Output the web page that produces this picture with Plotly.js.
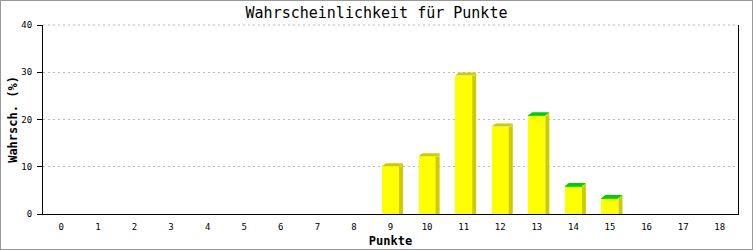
<!DOCTYPE html>
<html><head><meta charset="utf-8">
<script src="https://cdn.plot.ly/plotly-3.0.1.min.js"></script>
<style>html,body{margin:0;padding:0;background:#fff}#chart{width:751px;height:248px;border:1px solid #999;}</style>
</head><body><div id="chart"></div>
<script>
const categories = ['0','1','2','3','4','5','6','7','8','9','10','11','12','13','14','15','16','17','18'];
const yellowValues = [0,0,0,0,0,0,0,0,0,10.1,12.2,29.3,18.5,20.8,5.8,3.1,0,0,0];
const greenValues  = [0,0,0,0,0,0,0,0,0,0,0,0,0,0.1,0.1,0.3,0,0,0];
const yTickVals = [0,10,20,30,40];

const BAR_W = 0.465, DX = 0.11, DY = 3;
const YELLOW = '#ffff00', SIDE = '#cccc00', GREEN_FRONT = '#00ee00', GREEN_TOP = '#00cc00';
const GRID = '#bbbbbb', GRID_DASH = '2px,3px';
const idx = categories.map((c,i)=>i);
const yMax = Math.max(...yTickVals);

const shapes = [];
// top gridline at the range maximum (yMax = top of the plot area); Plotly skips edge gridlines
shapes.push({type:'line', xref:'paper', yref:'paper', x0:0, x1:1, y0:1, y1:1,
  line:{color:GRID, width:1, dash:GRID_DASH}, layer:'below'});
idx.forEach(i => {
  const total = yellowValues[i] + greenValues[i];
  if (total <= 0) return;
  const L = i - BAR_W/2, R = i + BAR_W/2;
  shapes.push({type:'rect', xref:'x', yref:'y', x0:R, x1:R+DX, y0:0, y1:total,
    fillcolor:SIDE, line:{width:0}, layer:'above'});
  shapes.push({type:'path', xref:'x', yref:'y', ysizemode:'pixel', yanchor:total,
    path:`M${R},0 L${R+DX},${DY} L${R+DX},0 Z`, fillcolor:SIDE, line:{width:0}, layer:'above'});
  shapes.push({type:'path', xref:'x', yref:'y', ysizemode:'pixel', yanchor:total,
    path:`M${L},0 L${R},0 L${R+DX},${DY} L${L+DX},${DY} Z`,
    fillcolor: greenValues[i] > 0 ? GREEN_TOP : SIDE, line:{width:0}, layer:'above'});
});

const traces = [
  {type:'bar', x:idx, y:yellowValues, width:BAR_W, marker:{color:YELLOW, line:{width:0}}, hoverinfo:'skip'},
  {type:'bar', x:idx, y:greenValues, width:BAR_W, marker:{color:GREEN_FRONT, line:{width:0}}, hoverinfo:'skip'}
];

const mono = 'DejaVu Sans Mono, monospace';
const layout = {
  width:751, height:248, margin:{l:42, r:14, t:24, b:35},
  paper_bgcolor:'#fff', plot_bgcolor:'#fff', showlegend:false, barmode:'stack',
  title:{text:'Wahrscheinlichkeit für Punkte', font:{family:mono, size:15, color:'#000'},
    x:0.5, xref:'container', xanchor:'center', y:1-12/248, yref:'container', yanchor:'middle'},
  xaxis:{range:[-0.5,18.5], tickvals:idx, ticktext:categories, showgrid:false, zeroline:false,
    showline:true, linecolor:'#000', linewidth:1, ticks:'', ticklabelstandoff:4,
    tickfont:{family:mono, size:9, color:'#000'}, fixedrange:true,
    title:{text:'<b>Punkte</b>', font:{family:mono, size:12, color:'#000'}, standoff:5}},
  yaxis:{range:[0,yMax], tickvals:yTickVals, showgrid:true, gridcolor:GRID, griddash:GRID_DASH,
    gridwidth:1, zeroline:false, showline:true, mirror:true, linecolor:'#000', linewidth:1,
    ticks:'outside', ticklen:5, tickcolor:'#000', ticklabelstandoff:3,
    tickfont:{family:mono, size:9, color:'#000'}, fixedrange:true,
    title:{text:'<b>Wahrsch. (%)</b>', font:{family:mono, size:12, color:'#000'}, standoff:1}},
  shapes: shapes
};
Plotly.newPlot('chart', traces, layout, {displayModeBar:false, staticPlot:true});
</script></body></html>
